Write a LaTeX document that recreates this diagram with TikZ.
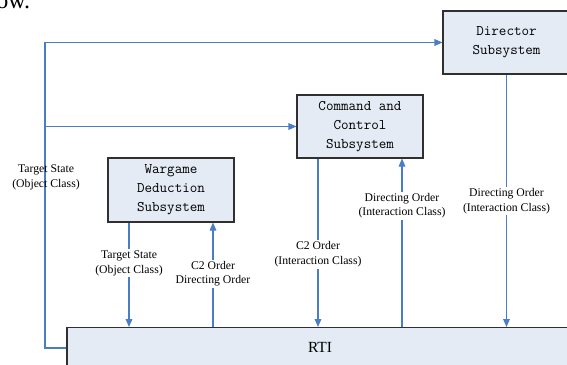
\documentclass[tikz,border=0pt]{standalone}
\usepackage{fontspec}
\setmainfont{Liberation Serif}
\usetikzlibrary{arrows.meta,positioning,calc}
\definecolor{cLink}{HTML}{4A7EC4}
\definecolor{cBox}{HTML}{E4EBF5}
\definecolor{cEdge}{HTML}{303030}
\tikzset{
  subsys/.style={draw=cEdge, line width=0.8pt, fill=cBox, align=center,
    font=\fontsize{11}{14.3}\selectfont\ttfamily, inner sep=2pt},
  rtibox/.style={draw=cEdge, line width=0.8pt, fill=cBox,
    font=\fontsize{11.6}{14}\selectfont},
  link/.style={draw=cLink, line width=0.8pt, -{Triangle[length=6pt,width=5pt]}},
  lbl/.style={align=center, font=\fontsize{8.8}{11.2}\selectfont, inner sep=1pt},
  lblw/.style={lbl, fill=white},
}

\begin{document}
\begin{tikzpicture}[x=0.75pt, y=-0.75pt]
    \useasboundingbox (0,0) rectangle (567,364);
    \clip (0,0) rectangle (567,364);
    % --- caption remains ---
    \node[anchor=base west, inner sep=0pt, font=\fontsize{18}{20}\selectfont]
      (capt) at (-4,8) {ow.};
    % --- subsystems ---
    \node[subsys, minimum width=95.25pt, minimum height=47.25pt] (dir) at (506.5,42.5)
      {Director\\Subsystem};
    \node[subsys, minimum width=94.5pt, minimum height=47.25pt] (cc) at (360,126.5)
      {Command and\\Control\\Subsystem};
    \node[subsys, minimum width=94.5pt, minimum height=48pt] (wg) at (171,190)
      {Wargame\\Deduction\\Subsystem};
    \node[rtibox, anchor=north, minimum width=379.5pt, minimum height=30pt]
      (rti) at (320,327) {RTI};
    % --- state feed on the left ---
    \coordinate (bus) at (45,0);
    \draw[link] (rti.west |- 0,348) -- (bus |- 0,348) |- (dir.west);
    \draw[link] (bus |- cc.west) -- (cc.west);
    \node[lbl] (tsl) at (46,177) {Target State\\(Object Class)};
    % --- wargame deduction ---
    \draw[link] (wg.south -| 129,0) -- node[lblw, pos=0.39]{Target State\\(Object Class)}
      (rti.north -| 129,0);
    \draw[link] (rti.north -| 213,0) -- node[lblw, pos=0.51]{C2 Order\\Directing Order}
      (wg.south -| 213,0);
    % --- command and control ---
    \draw[link] (cc.south -| 318,0) -- node[lblw, pos=0.57]{C2 Order\\(Interaction Class)}
      (rti.north -| 318,0);
    \draw[link] (rti.north -| 402,0) -- node[lblw, pos=0.72]{Directing Order\\(Interaction Class)}
      (cc.south -| 402,0);
    % --- director ---
    \draw[link] (dir.south) -- node[lblw, pos=0.5]{Directing Order\\(Interaction Class)}
      (rti.north -| dir.south);
  \end{tikzpicture}
\end{document}
